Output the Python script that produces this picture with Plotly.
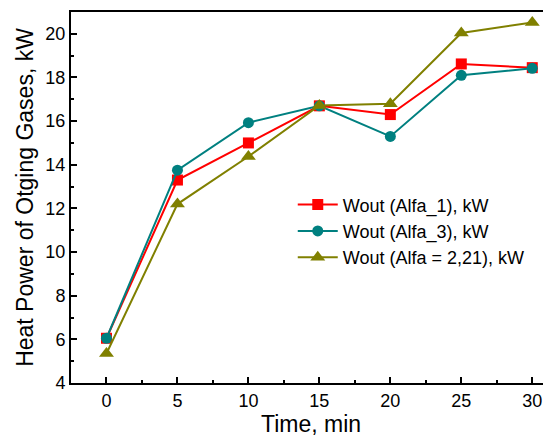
import plotly.graph_objects as go

time_min = [0, 5, 10, 15, 20, 25, 30]
wout_alfa1 = [6.05, 13.3, 15.0, 16.7, 16.3, 18.62, 18.45]
wout_alfa3 = [6.05, 13.75, 15.93, 16.7, 15.3, 18.1, 18.42]
wout_alfa221 = [5.35, 12.2, 14.38, 16.72, 16.8, 20.04, 20.52]

names = ["Wout (Alfa_1), kW", "Wout (Alfa_3), kW", "Wout (Alfa = 2,21), kW"]
colors = ["#ff0000", "#008080", "#808000"]
symbols = ["square", "circle", "triangle-up"]
sizes = [11, 11, 13]
series = [wout_alfa1, wout_alfa3, wout_alfa221]

fig = go.Figure()
for n, c, s, sz, ys in zip(names, colors, symbols, sizes, series):
    fig.add_trace(go.Scatter(
        x=time_min, y=ys, name=n, mode="lines+markers",
        line=dict(color=c, width=2),
        marker=dict(symbol=s, size=sz, color=c),
    ))

fig.update_layout(
    width=543, height=430,
    margin=dict(l=63, r=0, t=4, b=55),
    paper_bgcolor="white", plot_bgcolor="white",
    font=dict(family="Liberation Sans, Arial, sans-serif", size=18, color="black"),
    showlegend=True,
    legend=dict(x=0.462, y=0.53, xanchor="left", yanchor="top",
                bgcolor="rgba(0,0,0,0)", font=dict(size=18),
                tracegroupgap=0, itemwidth=40),
    xaxis=dict(
        range=[-2.5, 31.32], tickmode="array", tickvals=[0, 5, 10, 15, 20, 25, 30],
        ticks="inside", ticklen=6, tickwidth=1.5, tickcolor="black",
        minor=dict(tickvals=[-2.5, 2.5, 7.5, 12.5, 17.5, 22.5, 27.5], ticks="inside", ticklen=3, tickcolor="black", tickwidth=1.5),
        showline=True, linecolor="black", linewidth=2, mirror=True,
        showgrid=False, zeroline=False,
        tickfont=dict(size=18),
        title=dict(text="Time, min", font=dict(size=23), standoff=6),
    ),
    yaxis=dict(
        range=[4, 21], tickmode="array", tickvals=[4, 6, 8, 10, 12, 14, 16, 18, 20],
        ticks="inside", ticklen=6, tickwidth=1.5, tickcolor="black",
        minor=dict(dtick=1, ticks="inside", ticklen=3, tickcolor="black", tickwidth=1.5),
        showline=True, linecolor="black", linewidth=2,
        showgrid=False, zeroline=False,
        tickfont=dict(size=18),
        title=dict(text="Heat Power of Otging Gases, kW", font=dict(size=23), standoff=5),
    ),
)

fig.write_html("out.html")
